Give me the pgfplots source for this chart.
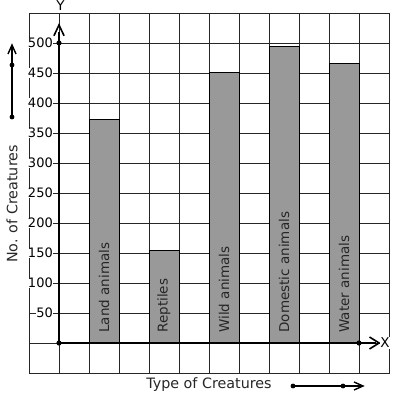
\documentclass[border=0pt]{standalone}
\usepackage{fontspec}
\setmainfont{DejaVu Sans}
\usepackage{pgfplots}
\pgfplotsset{compat=1.18}
\usetikzlibrary{arrows.meta}
\definecolor{barfill}{RGB}{153,153,153}
\begin{document}
\begin{tikzpicture}
\useasboundingbox (-29pt,-26pt) rectangle (368pt,373pt);
\begin{axis}[
  at={(0pt,0pt)}, anchor=south west,
  scale only axis, width=360pt, height=360pt,
  xmin=-1, xmax=11, ymin=-50, ymax=550,
  xtick={-1,0,...,11}, ytick={-50,0,...,550},
  xticklabels={}, yticklabels={},
  major tick length=0pt,
  grid=major,
  major grid style={black!85, line width=0.8pt},
  axis line style={black!85, line width=0.8pt},
  clip=false,
]
\addplot[ybar, bar width=1, fill=barfill, draw=black, line width=0.8pt]
  coordinates {(1.5,372) (3.5,155) (5.5,451) (7.5,494) (9.5,466)};
% axes
\draw[line width=2.6pt] (axis cs:0,0) -- (axis cs:10.55,0);
\draw[line width=2.6pt] (axis cs:0,0) -- (axis cs:0,518);
\draw[line width=1.6pt] (axis cs:10.35,10) -- (axis cs:10.67,0) -- (axis cs:10.35,-10);
\draw[line width=1.6pt] (axis cs:-0.17,512) -- (axis cs:0,530) -- (axis cs:0.17,512);
\fill (axis cs:0,0) circle (2.6pt);
\fill (axis cs:0,500) circle (2.6pt);
\fill (axis cs:10,0) circle (2.6pt);
% tick labels
\pgfplotsinvokeforeach{50,100,...,500}{
  \node[anchor=east, fill=white, inner sep=0.5pt, font=\fontsize{13}{14}\selectfont, xshift=-5.5pt] at (axis cs:0,#1) {#1};
}
\node[fill=white, inner sep=0.8pt, font=\fontsize{13.5}{15}\selectfont] at (axis cs:0.05,562) {Y};
\node[fill=white, inner sep=0.8pt, font=\fontsize{13.5}{15}\selectfont] at (axis cs:10.87,0) {X};
% bar labels
\node[rotate=90, anchor=west, inner sep=0pt, font=\fontsize{13.5}{15}\selectfont, text=black!85] at (axis cs:1.5,17) {Land animals};
\node[rotate=90, anchor=west, inner sep=0pt, font=\fontsize{13.5}{15}\selectfont, text=black!85] at (axis cs:3.5,17) {Reptiles};
\node[rotate=90, anchor=west, inner sep=0pt, font=\fontsize{13.5}{15}\selectfont, text=black!85] at (axis cs:5.5,17) {Wild animals};
\node[rotate=90, anchor=west, inner sep=0pt, font=\fontsize{13.5}{15}\selectfont, text=black!85] at (axis cs:7.5,17) {Domestic animals};
\node[rotate=90, anchor=west, inner sep=0pt, font=\fontsize{13.5}{15}\selectfont, text=black!85] at (axis cs:9.5,17) {Water animals};
\end{axis}
% y label and arrow
\node[rotate=90, font=\fontsize{14.3}{16}\selectfont, text=black!85] at (-17pt,169pt) {No. of Creatures};
\draw[line width=1.8pt] (-17pt,256pt) -- (-17pt,326pt);
\draw[line width=1.4pt] (-21pt,319pt) -- (-17pt,328pt) -- (-13pt,319pt);
\fill (-17pt,256pt) circle (2.4pt);
\fill (-17pt,308pt) circle (2.4pt);
% x label and arrow
\node[font=\fontsize{14.3}{16}\selectfont, text=black!85] at (180pt,-12pt) {Type of Creatures};
\draw[line width=1.8pt] (264pt,-13pt) -- (332pt,-13pt);
\draw[line width=1.4pt] (325pt,-9pt) -- (334pt,-13pt) -- (325pt,-17pt);
\fill (264pt,-13pt) circle (2.4pt);
\fill (314pt,-13pt) circle (2.4pt);
\end{tikzpicture}
\end{document}
